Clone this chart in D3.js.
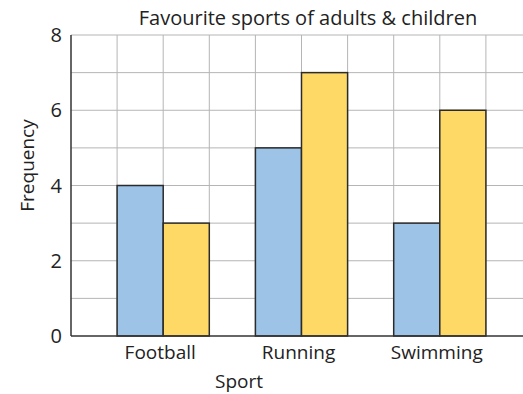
<!DOCTYPE html>
<html>
<head>
<meta charset="utf-8">
<script src="https://cdn.jsdelivr.net/npm/d3@7"></script>
<style>
  body { margin: 0; background: #fff; }
  text { font-family: "Open Sans", "Noto Sans", sans-serif; fill: #222; }
</style>
</head>
<body>
<div id="hook-chart"></div>
<script>
'use strict';

var sports = ['Football', 'Running', 'Swimming'];
var groups = ['Adults', 'Children'];
var adults = [4, 5, 3];
var children = [3, 7, 6];
var yTicks = [0, 2, 4, 6, 8];

var options = {
  width: 523,
  height: 394,
  left: 71,
  right: 532,
  top: 35,
  bottom: 336,
  cells: 10
};

var colours = { Adults: '#9dc3e6', Children: '#ffd966' };

function update(options) {
  var svg = d3.select('#hook-chart')
    .append('svg')
    .attr('width', options.width)
    .attr('height', options.height);

  var y = d3.scaleLinear().domain([0, 8]).range([options.bottom, options.top]);
  var x = d3.scaleBand().domain(sports)
    .range([options.left, options.right])
    .paddingInner(1/3).paddingOuter(1/3);
  var xSub = d3.scaleBand().domain(groups).range([0, x.bandwidth()]);
  var cell = d3.scaleLinear().domain([0, options.cells]).range([options.left, options.right]);

  var grid = svg.append('g');
  grid.selectAll('.h')
    .data(d3.range(1, 9))
    .enter().append('line')
    .attr('x1', options.left).attr('x2', options.right)
    .attr('y1', function(d) { return y(d); })
    .attr('y2', function(d) { return y(d); })
    .style('stroke', '#b5b5b5').style('stroke-width', 1);
  grid.selectAll('.v')
    .data(d3.range(1, options.cells + 1))
    .enter().append('line')
    .attr('y1', options.top).attr('y2', options.bottom)
    .attr('x1', function(d) { return cell(d); })
    .attr('x2', function(d) { return cell(d); })
    .style('stroke', '#b5b5b5').style('stroke-width', 1);

  var rows = sports.map(function(s, i) {
    return { sport: s, values: [
      { group: 'Adults', value: adults[i] },
      { group: 'Children', value: children[i] }
    ]};
  });

  svg.selectAll('.sport')
    .data(rows)
    .enter().append('g')
    .attr('transform', function(d) { return 'translate(' + x(d.sport) + ',0)'; })
    .selectAll('rect')
    .data(function(d) { return d.values; })
    .enter().append('rect')
    .attr('x', function(d) { return xSub(d.group); })
    .attr('y', function(d) { return y(d.value); })
    .attr('width', xSub.bandwidth())
    .attr('height', function(d) { return y(0) - y(d.value); })
    .style('fill', function(d) { return colours[d.group]; })
    .style('stroke', '#2b2b2b')
    .style('stroke-width', 1.5);

  // axes
  svg.append('line')
    .attr('x1', options.left).attr('x2', options.left)
    .attr('y1', options.top).attr('y2', options.bottom)
    .style('stroke', '#333').style('stroke-width', 1.5);
  svg.append('line')
    .attr('x1', options.left).attr('x2', options.right)
    .attr('y1', options.bottom).attr('y2', options.bottom)
    .style('stroke', '#333').style('stroke-width', 1.5);

  svg.selectAll('.ytick')
    .data(yTicks)
    .enter().append('text')
    .attr('x', options.left - 9)
    .attr('y', function(d) { return y(d); })
    .attr('dy', '0.36em')
    .attr('text-anchor', 'end')
    .style('font-size', '20px')
    .text(function(d) { return d; });

  svg.selectAll('.xtick')
    .data(sports)
    .enter().append('text')
    .attr('x', function(d) { return x(d) + x.bandwidth() / 2 - 3; })
    .attr('y', options.bottom + 23)
    .attr('text-anchor', 'middle')
    .style('font-size', '19px')
    .text(function(d) { return d; });

  svg.append('text')
    .attr('x', 239).attr('y', 388)
    .attr('text-anchor', 'middle')
    .style('font-size', '19px')
    .text('Sport');

  svg.append('text')
    .attr('transform', 'translate(34,' + ((options.top + options.bottom) / 2 - 20) + ') rotate(-90)')
    .attr('text-anchor', 'middle')
    .style('font-size', '19px')
    .text('Frequency');

  svg.append('text')
    .attr('x', 308).attr('y', 25)
    .attr('text-anchor', 'middle')
    .style('font-size', '20px')
    .text('Favourite sports of adults & children');
}

update(options);
</script>
</body>
</html>
